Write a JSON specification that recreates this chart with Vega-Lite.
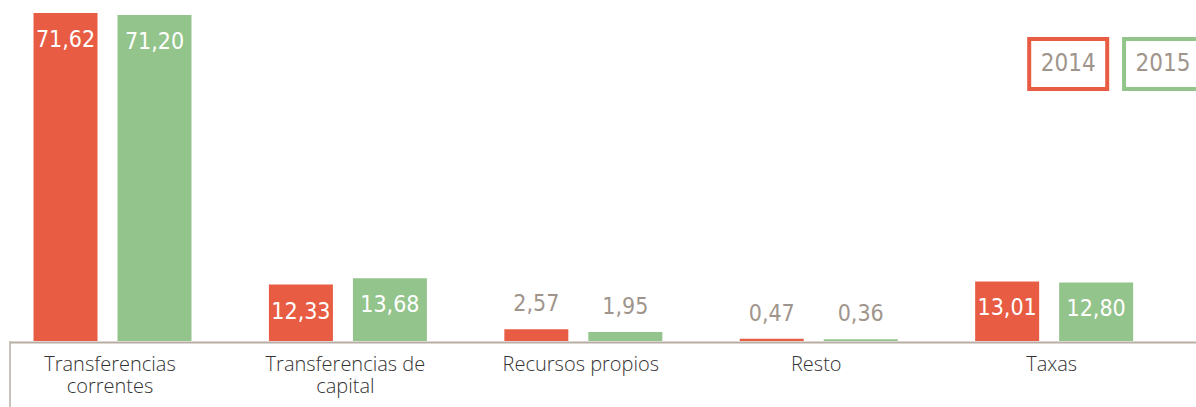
{
  "$schema": "https://vega.github.io/schema/vega-lite/v6.json",
  "width": 1186,
  "height": 328,
  "autosize": {"type": "none"},
  "padding": {"left": 10, "top": 13, "right": 0, "bottom": 66},
  "background": "white",
  "config": {
    "view": {"stroke": null},
    "locale": {"number": {"decimal": ",", "thousands": ".", "grouping": [3], "currency": ["", " €"]}}
  },
  "datasets": {
    "main": [
      {"category": "Transferencias correntes", "year": "2014", "value": 71.62},
      {"category": "Transferencias correntes", "year": "2015", "value": 71.20},
      {"category": "Transferencias de capital", "year": "2014", "value": 12.33},
      {"category": "Transferencias de capital", "year": "2015", "value": 13.68},
      {"category": "Recursos propios", "year": "2014", "value": 2.57},
      {"category": "Recursos propios", "year": "2015", "value": 1.95},
      {"category": "Resto", "year": "2014", "value": 0.47},
      {"category": "Resto", "year": "2015", "value": 0.36},
      {"category": "Taxas", "year": "2014", "value": 13.01},
      {"category": "Taxas", "year": "2015", "value": 12.80}
    ],
    "leg2014": [{"year": "2014"}],
    "leg2015": [{"year": "2015"}],
    "one": [{"k": 1}]
  },
  "layer": [
    {
      "data": {"name": "main"},
      "mark": {"type": "bar"},
      "encoding": {
        "x": {
          "field": "category", "type": "nominal",
          "scale": {"domain": ["Transferencias correntes", "Transferencias de capital", "Recursos propios", "Resto", "Taxas"], "paddingInner": 0.244, "paddingOuter": 0.141, "align": 0.166},
          "axis": {
            "title": null, "ticks": false, "domainColor": "#B8ADA3", "domainWidth": 2, "offset": 1,
            "labelFont": "Open Sans", "labelFontSize": 20, "labelFontWeight": 300, "labelColor": "#333333",
            "labelPadding": 12, "labelLineHeight": 22, "labelAngle": 0, "labelLimit": 400,
            "labelOverlap": false, "labelBound": false, "labelFlush": false,
            "labelExpr": "datum.value == 'Transferencias correntes' ? ['Transferencias', 'correntes'] : datum.value == 'Transferencias de capital' ? ['Transferencias de', 'capital'] : datum.value"
          }
        },
        "xOffset": {"field": "year", "type": "nominal", "scale": {"domain": ["2014", "2015"], "paddingInner": 0, "paddingOuter": 0}},
        "y": {"field": "value", "type": "quantitative", "scale": {"domain": [0, 71.62], "nice": false}, "axis": null},
        "color": {"field": "year", "type": "nominal", "scale": {"domain": ["2014", "2015"], "range": ["#E85C44", "#93C48B"]}, "legend": null},
        "size": {"field": "year", "type": "ordinal", "scale": {"domain": ["2014", "2015"], "range": [64, 74]}, "legend": null}
      }
    },
    {
      "data": {"name": "main"},
      "transform": [{"filter": "datum.value > 5"}],
      "mark": {"type": "text", "align": "center", "baseline": "alphabetic", "dy": 34, "color": "white", "font": "'Liberation Sans Narrow', 'DejaVu Sans Condensed', 'Roboto Condensed', Roboto", "fontSize": 23},
      "encoding": {
        "x": {"field": "category", "type": "nominal"},
        "xOffset": {"field": "year", "type": "nominal"},
        "y": {"field": "value", "type": "quantitative"},
        "text": {"field": "value", "type": "quantitative", "format": ".2f"}
      }
    },
    {
      "data": {"name": "main"},
      "transform": [{"filter": "datum.value <= 5"}],
      "mark": {"type": "text", "align": "center", "baseline": "alphabetic", "dy": -18, "color": "#A0958C", "font": "'Liberation Sans Narrow', 'DejaVu Sans Condensed', 'Roboto Condensed', Roboto", "fontSize": 23},
      "encoding": {
        "x": {"field": "category", "type": "nominal"},
        "xOffset": {"field": "year", "type": "nominal"},
        "y": {"field": "value", "type": "quantitative"},
        "text": {"field": "value", "type": "quantitative", "format": ".2f"}
      }
    },
    {
      "data": {"name": "one"},
      "mark": {"type": "rule", "color": "#B8ADA3", "strokeWidth": 1.5},
      "encoding": {
        "x": {"datum": "Transferencias correntes", "bandPosition": -0.0618},
        "y": {"datum": 0},
        "y2": {"datum": -15}
      }
    },
    {
      "data": {"name": "leg2014"},
      "encoding": {
        "x": {"datum": "Taxas", "bandPosition": 0.593},
        "y": {"datum": 60.48}
      },
      "layer": [
        {
          "mark": {"type": "point", "shape": "M-1.56,-1H1.56V1H-1.56Z", "filled": false, "strokeWidth": 4, "opacity": 1, "size": 2500},
          "encoding": {"color": {"field": "year", "type": "nominal", "legend": null}}
        },
        {
          "mark": {"type": "text", "align": "center", "baseline": "alphabetic", "dy": 7, "color": "#A0958C", "font": "'Liberation Sans Narrow', 'DejaVu Sans Condensed', 'Roboto Condensed', Roboto", "fontSize": 24},
          "encoding": {"text": {"field": "year", "type": "nominal"}}
        }
      ]
    },
    {
      "data": {"name": "leg2015"},
      "encoding": {
        "x": {"datum": "Taxas", "bandPosition": 1.126},
        "y": {"datum": 60.48}
      },
      "layer": [
        {
          "mark": {"type": "point", "shape": "M-1.56,-1H1.56V1H-1.56Z", "filled": false, "strokeWidth": 4, "opacity": 1, "size": 2500},
          "encoding": {"color": {"field": "year", "type": "nominal", "legend": null}}
        },
        {
          "mark": {"type": "text", "align": "center", "baseline": "alphabetic", "dy": 7, "color": "#A0958C", "font": "'Liberation Sans Narrow', 'DejaVu Sans Condensed', 'Roboto Condensed', Roboto", "fontSize": 24},
          "encoding": {"text": {"field": "year", "type": "nominal"}}
        }
      ]
    }
  ]
}
